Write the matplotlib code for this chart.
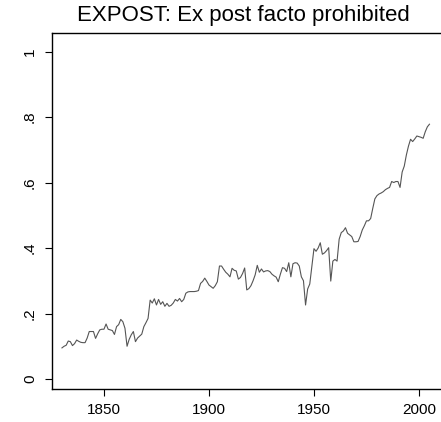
import matplotlib
matplotlib.use("Agg")
from matplotlib import pyplot as plt

plt.rcParams["font.family"] = ["Liberation Sans", "DejaVu Sans"]

years = list(range(1830, 2006))
expost = [
    0.095, 0.100, 0.103, 0.116, 0.114, 0.102, 0.108, 0.119, 0.115, 0.112,  # 1830s
    0.111, 0.111, 0.125, 0.145, 0.145, 0.145, 0.124, 0.138, 0.150, 0.152,  # 1840s
    0.152, 0.168, 0.152, 0.150, 0.148, 0.136, 0.160, 0.166, 0.182, 0.175,  # 1850s
    0.155, 0.100, 0.121, 0.135, 0.145, 0.114, 0.125, 0.131, 0.137, 0.160,  # 1860s
    0.172, 0.185, 0.241, 0.232, 0.245, 0.226, 0.243, 0.228, 0.236, 0.222,  # 1870s
    0.231, 0.222, 0.225, 0.232, 0.243, 0.238, 0.246, 0.236, 0.243, 0.262,  # 1880s
    0.266, 0.267, 0.267, 0.267, 0.268, 0.270, 0.292, 0.298, 0.308, 0.298,  # 1890s
    0.287, 0.282, 0.277, 0.285, 0.297, 0.345, 0.345, 0.335, 0.326, 0.320,  # 1900s
    0.312, 0.338, 0.332, 0.330, 0.305, 0.310, 0.322, 0.339, 0.272, 0.276,  # 1910s
    0.285, 0.300, 0.318, 0.347, 0.326, 0.336, 0.327, 0.330, 0.331, 0.328,  # 1920s
    0.320, 0.315, 0.311, 0.297, 0.320, 0.340, 0.338, 0.328, 0.355, 0.312,  # 1930s
    0.352, 0.355, 0.354, 0.345, 0.312, 0.300, 0.226, 0.275, 0.290, 0.345,  # 1940s
    0.398, 0.390, 0.400, 0.416, 0.381, 0.385, 0.392, 0.401, 0.299, 0.360,  # 1950s
    0.365, 0.360, 0.427, 0.447, 0.452, 0.462, 0.445, 0.440, 0.435, 0.419,  # 1960s
    0.419, 0.420, 0.435, 0.455, 0.468, 0.483, 0.483, 0.490, 0.521, 0.550,  # 1970s
    0.560, 0.565, 0.568, 0.572, 0.578, 0.582, 0.585, 0.603, 0.600, 0.603,  # 1980s
    0.603, 0.585, 0.632, 0.650, 0.684, 0.711, 0.732, 0.725, 0.733, 0.742,  # 1990s
    0.740, 0.738, 0.735, 0.755, 0.770, 0.778,                              # 2000s
]

x_ticks = [1850, 1900, 1950, 2000]
y_ticks = [0, 0.2, 0.4, 0.6, 0.8, 1]
y_labels = ["0", ".2", ".4", ".6", ".8", "1"]

fig = plt.figure(figsize=(4.41, 4.22), dpi=100)
ax = fig.add_axes([52.3 / 441, 33 / 422, (445 - 52.3) / 441, (389 - 33) / 422])

ax.plot(years, expost, color="#555555", lw=0.8)

ax.set_xlim(1825.4, 2012.4)
ax.set_ylim(-0.0305, 1.0565)
ax.set_xticks(x_ticks)
ax.set_yticks(y_ticks)
ax.set_yticklabels(y_labels, rotation=90, va="center")
ax.tick_params(axis="both", labelsize=11, length=5, width=0.8, color="black")
ax.tick_params(axis="x", pad=5)
ax.tick_params(axis="y", pad=6)
for side in ["left", "bottom", "top"]:
    ax.spines[side].set_linewidth(1.0)
ax.spines["right"].set_visible(False)

fig.text(0.553, 1 - 16 / 422, "EXPOST: Ex post facto prohibited",
         ha="center", va="center", fontsize=16)

fig.savefig("out.png", dpi=100)
